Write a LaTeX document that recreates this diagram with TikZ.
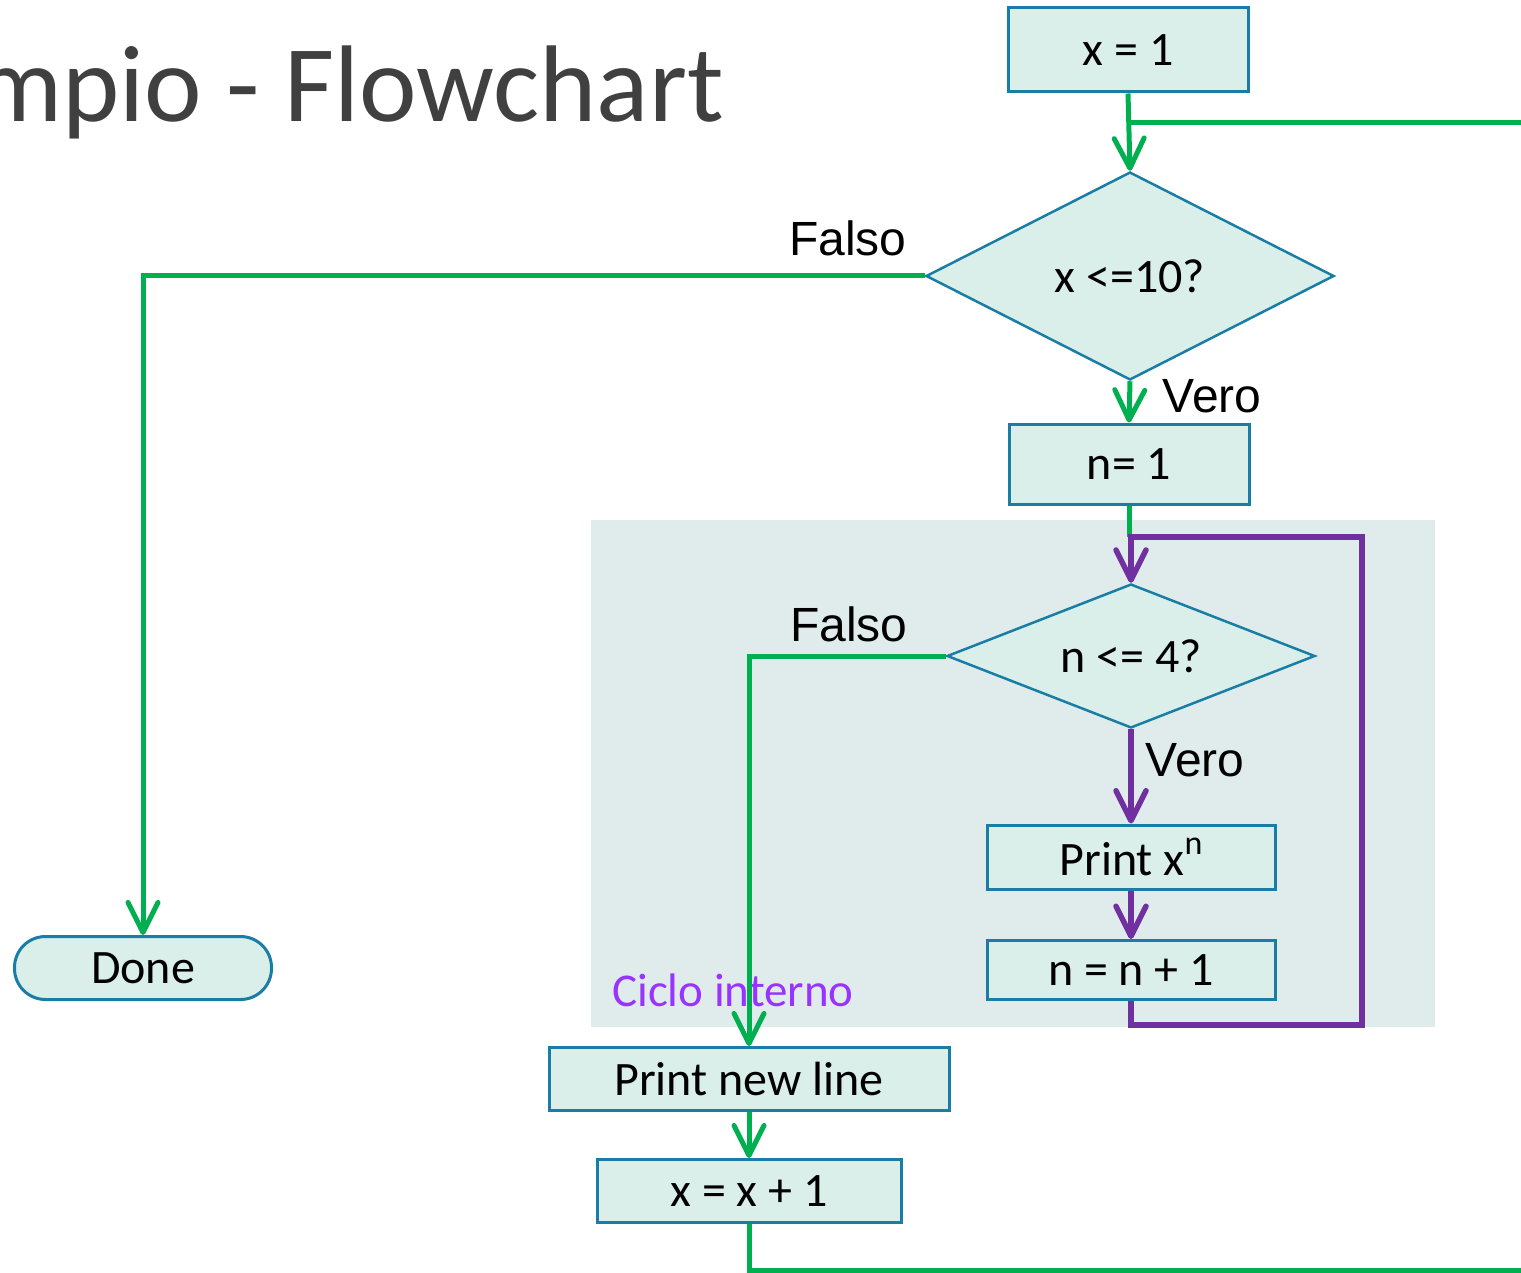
\documentclass[tikz,border=0pt]{standalone}
\usepackage{fontspec}
\setmainfont{Carlito}
\newfontfamily\arialfont{Liberation Sans}
\usetikzlibrary{shapes.geometric, arrows.meta, positioning}

\definecolor{boxfill}{HTML}{DAEFE9}
\definecolor{boxline}{HTML}{1A7DA6}
\definecolor{flowgreen}{HTML}{00B050}
\definecolor{flowpurple}{HTML}{7030A0}
\definecolor{loopbg}{HTML}{E0ECEC}
\definecolor{looptext}{HTML}{9933FF}
\definecolor{titlegray}{HTML}{404040}

\newcommand{\supn}{\raisebox{0.42em}{\fontsize{34}{38}\selectfont n}}

\begin{document}
\begin{tikzpicture}[x=1pt, y=-1pt, >={Straight Barb[length=30pt, width=30pt, round]}]
\tikzstyle{block}=[draw=boxline, fill=boxfill, line width=3pt, rectangle, inner sep=0pt, font=\fontsize{48}{54}\selectfont]
\tikzstyle{test}=[draw=boxline, fill=boxfill, line width=2.5pt, diamond, aspect=2, inner sep=0pt, font=\fontsize{48}{54}\selectfont]
\tikzstyle{gline}=[draw=flowgreen, line width=5pt]
\tikzstyle{pline}=[draw=flowpurple, line width=5.5pt]
\tikzstyle{tag}=[font=\arialfont\fontsize{48}{54}\selectfont]

\useasboundingbox (0,0) rectangle (1521,1273);

% inner loop background
\fill[loopbg] (591,520) rectangle (1435,1027);
\node[text=looptext, font=\fontsize{47}{52}\selectfont] (ciclo) at (733,990) {Ciclo interno};

% title
\node[anchor=base east, text=titlegray, font=\fontsize{109}{118}\selectfont, inner sep=0pt] (title) at (724,122) {mpio - Flowchart};

% blocks
\node[block, minimum width=240pt, minimum height=84pt] (x1) at (1128,50) {x = 1};
\node[test, minimum width=408pt, minimum height=208pt] (d1) at (1130,276) {x <=10?};
\node[block, minimum width=240pt, minimum height=80pt] (n1) at (1129,464) {n= 1};
\node[test, minimum width=368pt, minimum height=144pt] (d2) at (1131,656) {n <= 4?};
\node[block, minimum width=288pt, minimum height=64pt] (px) at (1131,857) {Print x\supn};
\node[block, minimum width=288pt, minimum height=59pt] (nn) at (1131,970) {n = n + 1};
\node[block, minimum width=400pt, minimum height=63pt] (pnl) at (749,1079) {Print new line};
\node[block, minimum width=304pt, minimum height=63pt] (xx) at (749,1191) {x = x + 1};
\node[block, rounded corners=31pt, minimum width=257pt, minimum height=63pt] (done) at (143,968) {Done};

% labels
\node[tag] (f1) at (848,238) {Falso};
\node[tag] (v1) at (1212,396) {Vero};
\node[tag] (f2) at (849,624) {Falso};
\node[tag] (v2) at (1195,760) {Vero};

% free ends of the outer loop
\coordinate (outbot) at (1521,1270);
\coordinate (outtop) at (1521,123);
\coordinate (lt) at (1362,537);
\coordinate (lb) at (1362,1025);

% outer loop
\draw[gline, ->] (x1.south) -- (d1.north);
\draw[gline] (outtop) -- (outtop -| x1.south);
\draw[gline, ->] (d1.west) -| (done.north);
\draw[gline, ->] (d1.south) -- (n1.north);
\draw[gline] (n1.south) -- (n1.south |- lt);
\draw[gline, ->] (d2.west) -| (pnl.north);
\draw[gline, ->] (pnl.south) -- (xx.north);
\draw[gline] (xx.south) |- (outbot);

% inner loop
\draw[pline, ->] (d2.south) -- (px.north);
\draw[pline, ->] (px.south) -- (nn.north);
\draw[pline, ->] (nn.south) |- (lb) -- (lt) -| (d2.north);

\end{tikzpicture}
\end{document}
